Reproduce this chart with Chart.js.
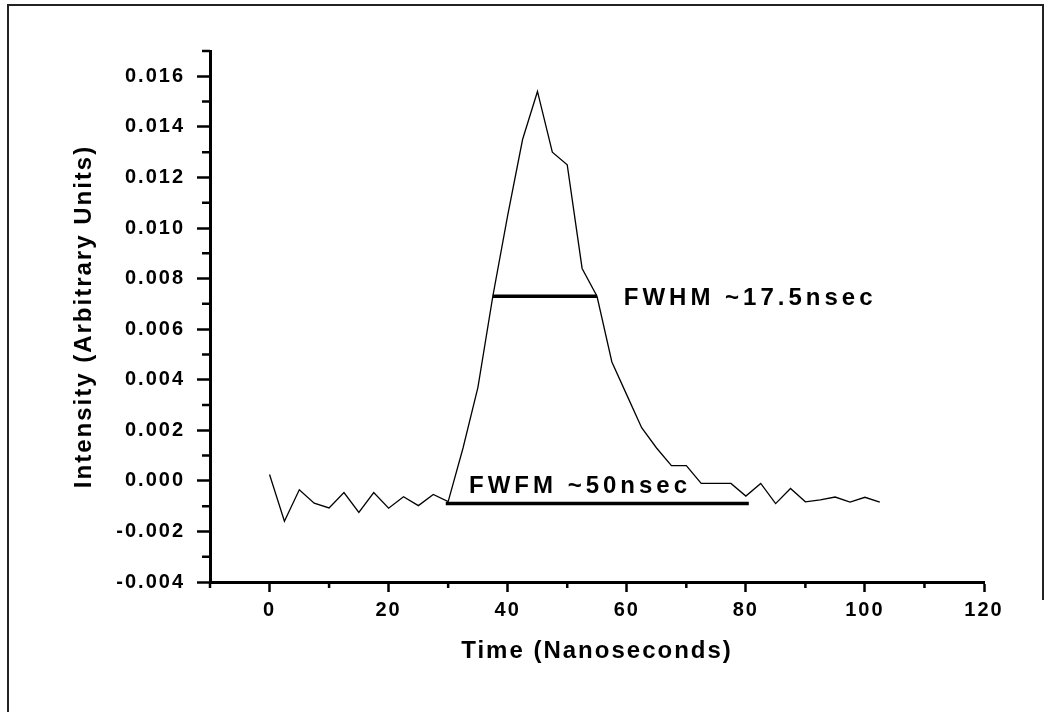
<!DOCTYPE html>
<html>
<head>
<meta charset="utf-8">
<script src="https://cdn.jsdelivr.net/npm/chart.js@4.4.1/dist/chart.umd.min.js"></script>
<style>
  html, body { margin: 0; padding: 0; background: #fff; }
  canvas { display: block; }
</style>
</head>
<body>
<canvas id="pulse-chart" width="1052" height="712"></canvas>
<script>
// time axis (ns) and measured intensity
var timeNs = [0, 2.5, 5, 7.5, 10, 12.5, 15, 17.5, 20, 22.5,
              25, 27.5, 30, 32.5, 35, 37.5, 40, 42.5, 45, 47.5,
              50, 52.5, 55, 57.5, 60, 62.5, 65, 67.5, 70, 72.5,
              75, 77.5, 80, 82.5, 85, 87.5, 90, 92.5, 95, 97.5,
              100, 102.5];
var intensity = [0.00025, -0.0016, -0.00035, -0.00088, -0.00107, -0.00046, -0.00125, -0.00046, -0.00108, -0.00063,
                 -0.00098, -0.00054, -0.00082, 0.0013, 0.0037, 0.0073, 0.0105, 0.0135, 0.0154, 0.0130,
                 0.0125, 0.0084, 0.0073, 0.0047, 0.0034, 0.0021, 0.0013, 0.0006, 0.0006, -0.0001,
                 -0.0001, -0.0001, -0.0006, -0.0001, -0.0009, -0.0003, -0.00083, -0.00075, -0.00064, -0.00084,
                 -0.00065, -0.00084];

// width markers
var fwhmX = [37.5, 55];
var fwhmLevel = 0.0073;
var fwfmX = [29.6, 80.5];
var fwfmLevel = -0.0009;

// annotation labels [text, x, y]
var notes = [
    ['FWHM ~17.5nsec', 59.5, 0.0072],
    ['FWFM ~50nsec', 33.5, -0.00023]
];

var xMin = -10, xMax = 120;
var yMin = -0.004, yMax = 0.017;

function toPoints(xs, ys) {
    return xs.map(function (x, i) { return {x: x, y: Array.isArray(ys) ? ys[i] : ys}; });
}

function isMajorX(v) { return Math.round(v) % 20 === 0; }
function isMajorY(v) { return Math.round(v * 1000) % 2 === 0; }

var FONT = 'Arial, "Liberation Sans", sans-serif';

var spacing = {
    id: 'spacing',
    beforeUpdate: function (chart) { chart.ctx.letterSpacing = '2px'; },
    beforeDraw: function (chart) { chart.ctx.letterSpacing = '2px'; }
};

// shorter minor ticks, drawn from the scale's own tick list
var minorTicks = {
    id: 'minorTicks',
    afterDraw: function (chart) {
        var ctx = chart.ctx, x = chart.scales.x, y = chart.scales.y;
        ctx.save();
        ctx.strokeStyle = '#000';
        ctx.lineWidth = 2.5;
        ctx.beginPath();
        x.ticks.forEach(function (t) {
            if (isMajorX(t.value)) return;
            var px = x.getPixelForValue(t.value);
            ctx.moveTo(px, x.top);
            ctx.lineTo(px, x.top + 6);
        });
        y.ticks.forEach(function (t) {
            if (isMajorY(t.value)) return;
            var py = y.getPixelForValue(t.value);
            ctx.moveTo(y.right, py);
            ctx.lineTo(y.right - 8, py);
        });
        ctx.stroke();
        ctx.restore();
    }
};

var labels = {
    id: 'labels',
    afterDatasetsDraw: function (chart) {
        var ctx = chart.ctx, x = chart.scales.x, y = chart.scales.y;
        ctx.save();
        ctx.letterSpacing = '4px';
        ctx.font = 'bold 24px ' + FONT;
        ctx.fillStyle = '#000';
        ctx.textAlign = 'left';
        ctx.textBaseline = 'middle';
        notes.forEach(function (n) {
            ctx.fillText(n[0], x.getPixelForValue(n[1]), y.getPixelForValue(n[2]));
        });
        ctx.restore();
    }
};

var frame = {
    id: 'frame',
    afterDraw: function (chart) {
        var ctx = chart.ctx;
        ctx.save();
        ctx.strokeStyle = '#222';
        ctx.lineWidth = 2;
        ctx.beginPath();
        ctx.moveTo(8, 712);
        ctx.lineTo(8, 5);
        ctx.lineTo(1043, 5);
        ctx.lineTo(1043, 600);
        ctx.stroke();
        ctx.restore();
    }
};

var ctx = document.getElementById('pulse-chart').getContext('2d');
var chart = new Chart(ctx, {
    type: 'scatter',
    data: {
        datasets: [
            {
                label: 'Intensity',
                data: toPoints(timeNs, intensity),
                showLine: true,
                borderColor: '#000',
                borderWidth: 1.3,
                pointRadius: 0,
                tension: 0
            },
            {
                label: 'FWHM',
                data: toPoints(fwhmX, fwhmLevel),
                showLine: true,
                borderColor: '#000',
                borderWidth: 3.5,
                pointRadius: 0
            },
            {
                label: 'FWFM',
                data: toPoints(fwfmX, fwfmLevel),
                showLine: true,
                borderColor: '#000',
                borderWidth: 3.5,
                pointRadius: 0
            }
        ]
    },
    options: {
        responsive: false,
        animation: false,
        layout: {
            padding: {left: 0, top: 51, right: 68, bottom: 0}
        },
        plugins: {
            legend: {display: false},
            tooltip: {enabled: false}
        },
        scales: {
            x: {
                type: 'linear',
                position: 'bottom',
                min: xMin,
                max: xMax,
                afterFit: function (s) { s.height = 130; },
                border: {display: true, color: '#000', width: 3},
                grid: {
                    drawOnChartArea: false,
                    tickLength: 10,
                    tickWidth: 2.5,
                    tickColor: function (c) { return isMajorX(c.tick.value) ? '#000' : 'rgba(0,0,0,0)'; }
                },
                ticks: {
                    stepSize: 10,
                    autoSkip: false,
                    maxRotation: 0,
                    padding: 6,
                    color: '#000',
                    font: {family: FONT, size: 20, weight: 'bold'},
                    callback: function (v) { return isMajorX(v) ? String(Math.round(v)) : ''; }
                },
                title: {
                    display: true,
                    text: 'Time (Nanoseconds)',
                    color: '#000',
                    font: {family: FONT, size: 24, weight: 'bold'},
                    padding: {top: 0, bottom: 46}
                }
            },
            y: {
                type: 'linear',
                position: 'left',
                min: yMin,
                max: yMax,
                afterFit: function (s) { s.width = 210; },
                border: {display: true, color: '#000', width: 3},
                grid: {
                    drawOnChartArea: false,
                    tickLength: 13,
                    tickWidth: 2.5,
                    tickColor: function (c) { return isMajorY(c.tick.value) ? '#000' : 'rgba(0,0,0,0)'; }
                },
                ticks: {
                    stepSize: 0.001,
                    autoSkip: false,
                    padding: 12,
                    color: '#000',
                    font: {family: FONT, size: 20, weight: 'bold'},
                    callback: function (v) { return isMajorY(v) ? v.toFixed(3) : ''; }
                },
                title: {
                    display: true,
                    text: 'Intensity (Arbitrary Units)',
                    color: '#000',
                    font: {family: FONT, size: 24, weight: 'bold'},
                    padding: {top: 70, bottom: 0}
                }
            }
        }
    },
    plugins: [spacing, minorTicks, labels, frame]
});
</script>
</body>
</html>
